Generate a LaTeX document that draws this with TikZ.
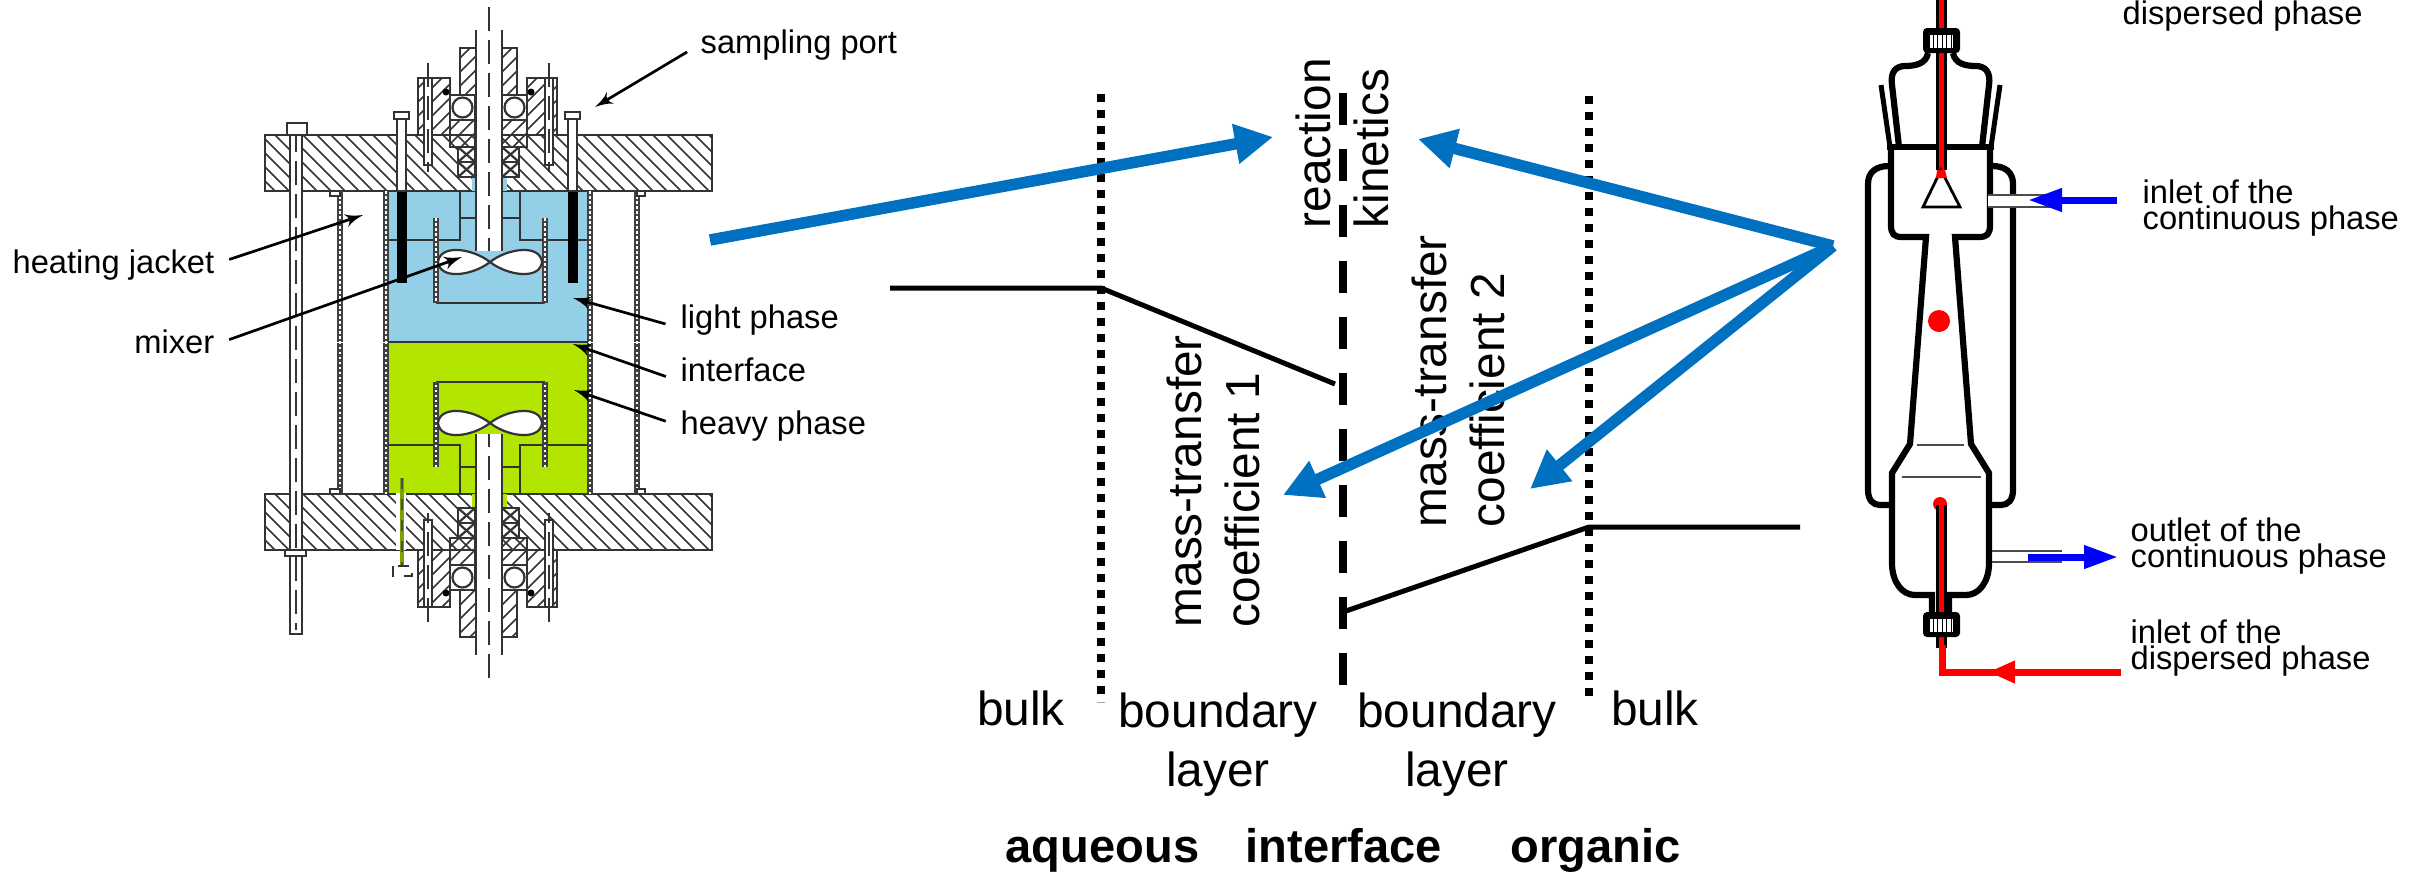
\documentclass[tikz,border=0pt]{standalone}
\usepackage{fontspec}
\setmainfont{Liberation Sans}
\usepackage{xcolor}
\usetikzlibrary{arrows}
\usetikzlibrary{arrows.meta}
\usetikzlibrary{positioning}
\definecolor{phaseblue}{HTML}{93D0E8}
\definecolor{phasegreen}{HTML}{B2E600}
\definecolor{sciblue}{HTML}{0070C0}
\newcommand{\bigtext}{\fontsize{13.6}{16.7}\selectfont}
\newcommand{\smalltext}{\fontsize{9.3}{7.4}\selectfont\lineskiplimit=-10pt\relax}
\tikzset{
    biglabel/.style={
           font=\bigtext,
           inner sep=0pt,
           align=center,
           },
    rotlabel/.style={
           font=\bigtext,
           inner sep=0pt,
           align=left,
           rotate=90,
           anchor=south west,
           },
    boldlabel/.style={
           font=\fontsize{13.4}{16}\selectfont\bfseries,
           inner sep=0pt,
           text height=10pt,
           text depth=3pt,
           },
    smalllabel/.style={
           font=\smalltext,
           inner sep=0pt,
           text height=7pt,
           text depth=2pt,
           },
    twolines/.style={
           font=\smalltext,
           inner sep=0pt,
           align=left,
           anchor=west,
           },
    detail/.style={draw=black!80, line width=.22mm},
    hatchline/.style={draw=black!80, line width=.17mm},
    wall/.style={draw=black!75, line width=.55mm},
    wallgap/.style={draw=white, line width=.2mm, dash pattern=on .25mm off .25mm},
    axisline/.style={draw=black!80, line width=.2mm, dash pattern=on 2.4mm off .9mm},
    leader/.style={-latex', black, line width=.27mm, shorten <=1.5mm},
    glass/.style={draw=black, line width=.62mm},
    flowblue/.style={draw=blue, line width=.7mm, -{Triangle[length=3.4mm,width=2.2mm]}},
    flowred/.style={draw=red, line width=.7mm, -{Triangle[length=2.7mm,width=2.1mm]}},
    bigarrow/.style={draw=sciblue, line width=1.15mm, -{Triangle[length=3.8mm,width=3.8mm]}},
    layerline/.style={draw=black, line width=.5mm},
    dotwall/.style={draw=black, line width=.8mm, dash pattern=on .8mm off .8mm},
    dashwall/.style={draw=black, line width=.8mm, dash pattern=on 3.2mm off 2.4mm},
}
\newcommand{\hatchbox}[5]{
	\begin{scope}
		\clip (#1,#2) rectangle (#3,#4);
		\foreach \hx in {-60,-46,...,520}
			\draw[hatchline] ({#1+\hx},#2) -- ++({#5*(#4-#2)},{#4-#2});
	\end{scope}
	\draw[detail] (#1,#2) rectangle (#3,#4);
}
\newcommand{\wallline}[3]{
	\draw[wall] (#1,#2) -- (#1,#3);
	\draw[wallgap] (#1,#2) -- (#1,#3);
}
\newcommand{\capnut}[1]{
	\fill[black, rounded corners=.4mm] (1923,#1) rectangle ++(37,25);
	\fill[white] (1930,{#1+7}) rectangle ++(23,13);
	\foreach \sx in {1933,1937.5,...,1951}
		\draw[black, line width=.1mm] (\sx,{#1+7}) -- ++(0,13);
}

\begin{document}
\begin{tikzpicture}[x=0.1mm,y=-0.1mm]
	\useasboundingbox (0,0) rectangle (2425,873);

	%stirred cell, left
	\fill[phaseblue] (388,191) rectangle (588,342);
	\fill[phasegreen] (388,342) rectangle (588,493);
	\draw[detail] (388,342) -- (588,342);

	\foreach \yzero/\yflip/\platedir/\hubdir/\phasecol in {0/1/1/-1/phaseblue,685/-1/-1/1/phasegreen}{
	\begin{scope}[shift={(0,\yzero)},yscale=\yflip]
		\hatchbox{265}{135}{712}{191}{\platedir}
		\hatchbox{460}{48}{517}{95}{\hubdir}
		\hatchbox{418}{78}{450}{135}{\hubdir}
		\hatchbox{527}{78}{557}{135}{\hubdir}
		\hatchbox{450}{120}{475}{147}{\hubdir}
		\hatchbox{502}{120}{527}{147}{\hubdir}
		\fill[\phasecol] (472,177) rectangle (507,191);
		%packing
		\foreach \boxx in {458,502}{
			\draw[detail, fill=white] (\boxx,147) rectangle ++(17,15);
			\draw[detail, fill=white] (\boxx,162) rectangle ++(17,15);
			\draw[detail] (\boxx,147) -- ++(17,15) (\boxx,162) -- ++(17,-15);
			\draw[detail] (\boxx,162) -- ++(17,15) (\boxx,177) -- ++(17,-15);
		}
		%bearings
		\foreach \boxx in {450,502}{
			\draw[detail, fill=white] (\boxx,95) rectangle ++(25,25);
			\draw[detail, fill=white] ({\boxx+12.5},107.5) circle (1mm);
		}
		\fill[black] (446,92) circle (.35mm);
		\fill[black] (531,92) circle (.35mm);
		%flange bolts
		\foreach \boltx in {428,549}{
			\draw[detail, fill=white] ({\boltx-4},78) rectangle ++(8,87);
			\draw[axisline] (\boltx,63) -- (\boltx,172);
		}
		%stator and cup
		\draw[detail] (388,240) -- (460,240) -- (460,191);
		\draw[detail] (588,240) -- (520,240) -- (520,191);
		\draw[detail] (460,218) -- (476,218);
		\draw[detail] (502,218) -- (520,218);
		\draw[detail] (436,303) -- (545,303);
		\wallline{436}{218}{303}
		\wallline{545}{218}{303}
		%walls
		\wallline{340}{191}{342}
		\wallline{637}{191}{342}
		\wallline{386}{191}{342}
		\wallline{590}{191}{342}
		\draw[detail, fill=white] (330,191) rectangle (340,196);
		\draw[detail, fill=white] (637,191) rectangle (645,196);
		%impeller
		\draw[detail, fill=white] (490,262) .. controls (472,248) and (440,244) .. (438,262)
			.. controls (440,280) and (472,276) .. (490,262)
			.. controls (508,248) and (540,244) .. (542,262)
			.. controls (540,280) and (508,276) .. (490,262);
		%shaft
		\fill[white] (476,30) rectangle (502,251);
		\draw[detail] (476,30) -- (476,251) (502,30) -- (502,251);
		\draw[axisline] (489,7) -- (489,251);
	\end{scope}
	}

	%parts only at one end
	\foreach \barx in {397,568}{
		\fill[black] (\barx,192) rectangle ++(10,91);
		\draw[detail, fill=white] (\barx,119) rectangle ++(9,72);
		\draw[detail, fill=white] ({\barx-3},112) rectangle ++(15,7);
	}
	\fill[white] (396,493) rectangle (406,550);
	\draw[phasegreen!70!black, line width=.4mm] (402,478) -- (402,568);
	\draw[black!70, line width=.12mm, dashed] (402,478) -- (402,568);
	\draw[detail, dashed, fill=white] (393,566) rectangle (412,576);

	%long bolt
	\draw[detail, fill=white] (290,135) rectangle (302,634);
	\draw[axisline] (296,128) -- (296,630);
	\draw[detail, fill=white] (287,123) rectangle (307,135);
	\draw[detail, fill=white] (285,550) rectangle (306,556);

	\node[smalllabel, anchor=base west] (samplingport) at (700,53) {sampling port};
	\node[smalllabel, anchor=base east] (heatingjacket) at (215,273) {heating jacket};
	\node[smalllabel, below=4.74mm of heatingjacket.south east, anchor=north east] (mixer) {mixer};
	\node[smalllabel, anchor=base west] (lightphase) at (680,328) {light phase};
	\node[smalllabel, below=2.04mm of lightphase.south west, anchor=north west] (interfacelabel) {interface};
	\node[smalllabel, below=2.04mm of interfacelabel.south west, anchor=north west] (heavyphase) {heavy phase};

	\coordinate (samplingtip) at (595,107);
	\coordinate (jackettip) at (363,215);
	\coordinate (mixertip) at (462,257);
	\coordinate (lighttip) at (573,298);
	\coordinate (interfacetip) at (573,344);
	\coordinate (heavytip) at (574,390);

	\path[leader] (samplingport.west) edge (samplingtip)
			(heatingjacket.east) edge (jackettip)
			(mixer.east) edge (mixertip)
			(lightphase.base west) edge (lighttip)
			(interfacelabel.base west) edge (interfacetip)
			(heavyphase.west) edge (heavytip);

	%layer model, middle
	\draw[dotwall] (1101,94) -- (1101,702);
	\draw[dotwall] (1589,96) -- (1589,702);
	\draw[dashwall] (1343,93) -- (1343,686);

	\coordinate (bulkleft) at (890,288);
	\coordinate (layerleft) at (1101,288);
	\coordinate (interleft) at (1335,384);
	\coordinate (interright) at (1343,612);
	\coordinate (layerright) at (1589,527);
	\coordinate (bulkright) at (1800,527);
	\draw[layerline] (bulkleft) -- (layerleft) -- (interleft);
	\draw[layerline] (interright) -- (layerright) -- (bulkright);

	\node[rotlabel] (kinetics) at (1390,229) {reaction\\kinetics};
	\node[rotlabel] (transfera) at (1261,628) {mass-transfer\\coefficient 1};
	\node[rotlabel] (transferb) at (1506,528) {mass-transfer\\coefficient 2};

	\node[biglabel, anchor=north] (boundarya) at (1218,692) {boundary\\layer};
	\node[biglabel, anchor=north] (boundaryb) at (1457,692) {boundary\\layer};
	\node[biglabel, anchor=base] (bulka) at (1021,725) {bulk};
	\node[biglabel, anchor=base] (bulkb) at (1655,725) {bulk};

	\node[boldlabel, anchor=base west] (aqueous) at (1005,862) {aqueous};
	\node[boldlabel, base right=4.5mm of aqueous] (interfacetext) {interface};
	\node[boldlabel, base right=6.7mm of interfacetext] (organic) {organic};

	\coordinate (stirredout) at (710,240);
	\coordinate (kineticsleft) at (1273,137);
	\coordinate (columnout) at (1833,246);
	\coordinate (kineticsright) at (1418,139);
	\coordinate (transferatip) at (1283,495);
	\coordinate (transferbtip) at (1530,489);

	\draw[bigarrow] (stirredout) -- (kineticsleft);
	\draw[bigarrow] (columnout) -- (kineticsright);
	\draw[bigarrow] (columnout) -- (transferatip);
	\draw[bigarrow] (columnout) -- (transferbtip);

	%column, right
	\foreach \xzero/\xflip in {0/1,3881/-1}{
	\begin{scope}[shift={(\xzero,0)},xscale=\xflip]
		\draw[glass] (1928,53) .. controls (1926,64) and (1915,66) .. (1905,66)
			.. controls (1896,66) and (1890,72) .. (1892,85) -- (1899,147);
		\draw[glass, line width=.5mm] (1881,85) -- (1890,147);
		\draw[glass] (1891,147) -- (1891,225) .. controls (1891,234) and (1894,237) .. (1902,237)
			-- (1926,237) -- (1910,444) -- (1892,473) -- (1892,563)
			.. controls (1892,582) and (1902,595) .. (1915,595) -- (1932,595) -- (1932,613);
		\draw[glass] (1889,166) .. controls (1876,166) and (1868,172) .. (1868,184)
			-- (1868,490) .. controls (1868,500) and (1873,505) .. (1880,505) -- (1890,505);
	\end{scope}
	}
	\draw[glass] (1887,147) -- (1994,147);

	\fill[black] (1936,0) rectangle (1947,170);
	\fill[red] (1939,0) rectangle (1944,178);
	\draw[glass, line width=.28mm, fill=white] (1941,170) -- (1923,207) -- (1960,207) -- cycle;
	\fill[red] (1937,170) -- (1945,170) -- (1947,178) -- (1936,178) -- cycle;
	\fill[red] (1939,321) circle (1.1mm);
	\draw[black!70, line width=.2mm] (1917,445) -- (1964,445);
	\draw[black!70, line width=.2mm] (1902,477) -- (1981,477);
	\fill[red] (1940,504) circle (.7mm);
	\fill[black] (1936,505) rectangle (1947,648);
	\fill[red] (1939,505) rectangle (1944,648);
	\capnut{28}
	\capnut{612}

	%feed and drain tubes
	\fill[white] (1988,195) rectangle (2060,207);
	\draw[black!70, line width=.2mm] (1988,195) -- (2060,195) (1988,207) -- (2060,207);
	\draw[black!70, line width=.2mm] (1992,551) -- (2062,551) (1992,562) -- (2062,562);

	\node[smalllabel, anchor=base west] (dispersedtop) at (2122,24) {dispersed phase};
	\node[twolines] (inletcont) at (2142,208) {inlet of the\\continuous phase};
	\node[twolines] (outletcont) at (2130,546) {outlet of the\\continuous phase};
	\node[twolines] (inletdisp) at (2130,648) {inlet of the\\dispersed phase};

	\coordinate (inlettail) at (2117,200);
	\coordinate (inlettip) at (2028,200);
	\coordinate (outlettail) at (2028,557);
	\coordinate (outlettip) at (2118,557);
	\coordinate (feedtail) at (2121,672);
	\coordinate (feedtip) at (1988,672);
	\coordinate (feedbend) at (1942,672);
	\coordinate (feedup) at (1942,645);

	\draw[flowblue] (inlettail) -- (inlettip);
	\draw[flowblue] (outlettail) -- (outlettip);
	\draw[draw=red, line width=.7mm] (feedtail) -- (feedbend) -- (feedup);
	\draw[flowred] (feedtail) -- (feedtip);
\end{tikzpicture}
\end{document}
